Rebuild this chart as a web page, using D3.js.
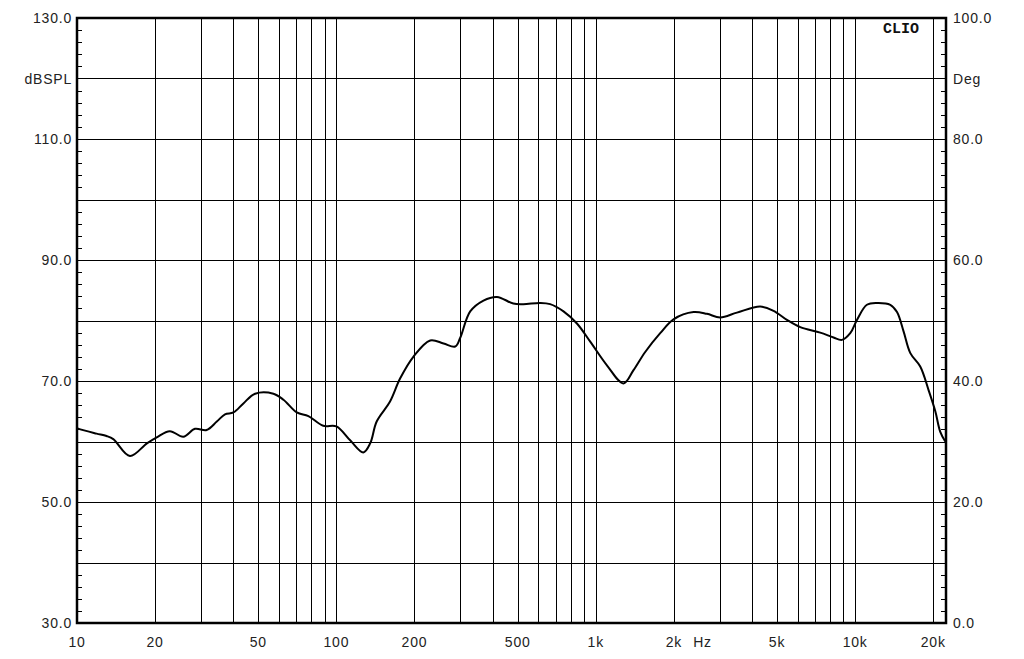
<!DOCTYPE html>
<html>
<head>
<meta charset="utf-8">
<script src="https://d3js.org/d3.v7.min.js"></script>
<style>
  body { margin: 0; background: #fff; }
  .lbl { font-family: "Liberation Sans", Arial, sans-serif; font-size: 14px; letter-spacing: 0.8px; fill: #222; }
</style>
</head>
<body>
<svg id="chart" width="1024" height="659"></svg>
<script>

// frequency response (Hz, dBSPL)
var freqs = [10, 10.3, 11.9, 13.0, 13.8, 16.0, 18.6, 20.3, 22.8, 25.7, 28.5, 31.6, 34.6, 37.2, 40.1,
  43.8, 48.6, 57.2, 62.5, 70.4, 78, 89, 100, 113, 127, 135, 143, 161, 176, 198, 230, 259, 287, 300,
  328, 369, 416, 481, 526, 610, 667, 751, 846, 952, 1104, 1279, 1398, 1551, 1772, 1994, 2382, 2683,
  3018, 3501, 4306, 4846, 5458, 6142, 7335, 8255, 8892, 9574, 10160, 11100, 12140, 13660, 14500,
  15370, 16320, 17820, 19190, 20370, 21290, 22260];
var spl = [62.2, 62.0, 61.3, 60.9, 60.4, 57.6, 59.7, 60.7, 61.7, 60.8, 62.1, 61.9, 63.3, 64.5, 64.8,
  66.3, 67.9, 67.9, 66.9, 64.8, 64.2, 62.6, 62.5, 60.2, 58.2, 59.7, 63.3, 66.6, 70.4, 74.0, 76.7, 76.2, 75.7, 77.1,
  81.5, 83.3, 83.9, 82.8, 82.7, 82.9, 82.7, 81.5, 79.5, 76.5, 72.6, 69.6, 71.8, 74.8, 77.9, 80.2, 81.4, 81.1,
  80.5, 81.3, 82.3, 81.6, 80.1, 78.9, 78.0, 77.2, 76.8, 77.9, 80.1, 82.6, 82.9, 82.6, 81.4,
  78.2, 74.6, 72.4, 68.5, 65.0, 61.6, 60.0];

var xTicks = [10, 20, 50, 100, 200, 500, 1000, 2000, 5000, 10000, 20000];
var xTickLabels = ["10", "20", "50", "100", "200", "500", "1k", "2k", "5k", "10k", "20k"];
var leftTicks = [30, 50, 70, 90, 110, 130];
var rightTicks = [0, 20, 40, 60, 80, 100];

var svg = d3.select("#chart"),
    margin = {top: 18, right: 78, bottom: 36, left: 77},
    width = +svg.attr("width") - margin.left - margin.right,
    height = +svg.attr("height") - margin.top - margin.bottom;

var x = d3.scaleLog().domain([10, 22400]).range([0, width]);
var y = d3.scaleLinear().domain([30, 130]).range([height, 0]);
var y2 = d3.scaleLinear().domain([0, 100]).range([height, 0]);

var g = svg.append("g")
    .attr("transform", "translate(" + margin.left + "," + margin.top + ")");

// vertical grid: 20..90, 100..900, ... 20k
var vgrid = [];
[10, 100, 1000, 10000].forEach(function(dec) {
  for (var k = 1; k <= 9; k++) {
    var f = dec * k;
    if (f > 10 && f <= 20000) vgrid.push(f);
  }
});

g.selectAll(".vgrid")
    .data(vgrid)
  .enter().append("line")
    .attr("class", "vgrid")
    .attr("x1", function(d) { return Math.round(x(d)) + 0.5; })
    .attr("x2", function(d) { return Math.round(x(d)) + 0.5; })
    .attr("y1", 0)
    .attr("y2", height)
    .attr("stroke", "#000")
    .attr("stroke-width", 1);

g.selectAll(".hgrid")
    .data(d3.range(40, 130, 10))
  .enter().append("line")
    .attr("class", "hgrid")
    .attr("x1", 0)
    .attr("x2", width)
    .attr("y1", function(d) { return Math.round(y(d)) + 0.5; })
    .attr("y2", function(d) { return Math.round(y(d)) + 0.5; })
    .attr("stroke", "#000")
    .attr("stroke-width", 1);

// small inner ticks every 2 dB on both sides
var minor = d3.range(32, 130, 2).filter(function(d) { return d % 10 != 0; });
g.selectAll(".mtl")
    .data(minor)
  .enter().append("line")
    .attr("x1", 0).attr("x2", 5)
    .attr("y1", function(d) { return Math.round(y(d)) + 0.5; })
    .attr("y2", function(d) { return Math.round(y(d)) + 0.5; })
    .attr("stroke", "#000");
g.selectAll(".mtr")
    .data(minor)
  .enter().append("line")
    .attr("x1", width - 5).attr("x2", width)
    .attr("y1", function(d) { return Math.round(y(d)) + 0.5; })
    .attr("y2", function(d) { return Math.round(y(d)) + 0.5; })
    .attr("stroke", "#000");

// frame
g.append("rect")
    .attr("x", 0)
    .attr("y", 0)
    .attr("width", width)
    .attr("height", height)
    .attr("fill", "none")
    .attr("stroke", "#000")
    .attr("stroke-width", 2.5);

// the response curve
var pts = freqs.map(function(f, i) { return [f, spl[i]]; });
g.append("path")
    .datum(pts)
    .attr("fill", "none")
    .attr("stroke", "#000")
    .attr("stroke-width", 2)
    .attr("stroke-linejoin", "round")
    .attr("d", d3.line()
      .curve(d3.curveCatmullRom.alpha(0.5))
      .x(function(d) { return x(d[0]); })
      .y(function(d) { return y(d[1]); }));

// left labels
g.selectAll(".ll")
    .data(leftTicks)
  .enter().append("text")
    .attr("class", "lbl")
    .attr("x", -5)
    .attr("y", function(d) { return y(d); })
    .attr("dy", "0.36em")
    .attr("text-anchor", "end")
    .text(function(d) { return d.toFixed(1); });

g.append("text")
    .attr("class", "lbl")
    .attr("x", -5)
    .attr("y", y(120))
    .attr("dy", "0.36em")
    .attr("text-anchor", "end")
    .text("dBSPL");

// right labels
g.selectAll(".rl")
    .data(rightTicks)
  .enter().append("text")
    .attr("class", "lbl")
    .attr("x", width + 7)
    .attr("y", function(d) { return y2(d); })
    .attr("dy", "0.36em")
    .text(function(d) { return d.toFixed(1); });

g.append("text")
    .attr("class", "lbl")
    .attr("x", width + 7)
    .attr("y", y2(90))
    .attr("dy", "0.36em")
    .text("Deg");

// bottom labels
g.selectAll(".bl")
    .data(xTicks)
  .enter().append("text")
    .attr("class", "lbl")
    .attr("x", function(d) { return x(d); })
    .attr("y", height + 24)
    .attr("text-anchor", "middle")
    .text(function(d, i) { return xTickLabels[i]; });

g.append("text")
    .attr("class", "lbl")
    .attr("x", x(2580))
    .attr("y", height + 24)
    .attr("text-anchor", "middle")
    .text("Hz");

g.append("text")
    .attr("x", 806)
    .attr("y", 15)
    .attr("font-family", "'Liberation Mono', 'Courier New', monospace")
    .attr("font-weight", "bold")
    .attr("font-size", "15px")
    .attr("fill", "#111")
    .text("CLIO");

</script>
</body>
</html>
